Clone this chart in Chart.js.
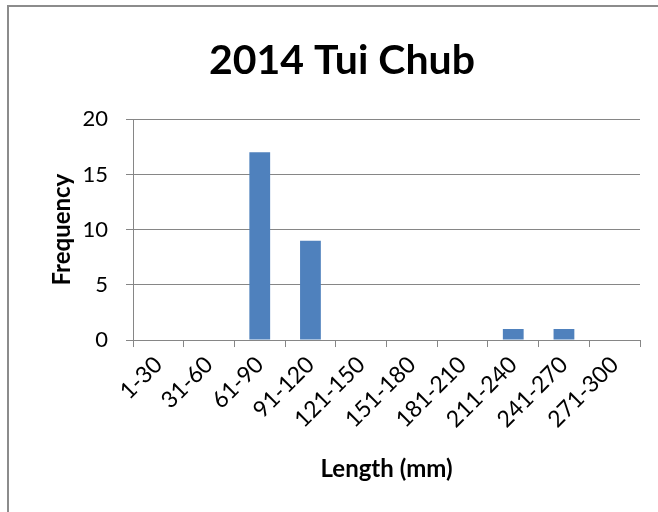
<!DOCTYPE html>
<html>
<head>
<meta charset="utf-8">
<script src="https://cdn.jsdelivr.net/npm/chart.js@4"></script>
<style>
  html, body { margin: 0; padding: 0; background: #fff; }
  #frame { position: absolute; left: 7px; top: 5px; width: 700px; height: 600px; border: 2px solid #8c8c8c; box-sizing: border-box; }
  #wrap { position: absolute; left: 0; top: 0; width: 658px; height: 512px; }
</style>
</head>
<body>
<div id="frame"></div>
<div id="wrap"><canvas id="fishChart" width="658" height="512"></canvas></div>
<script>
var lengthBins = ['1-30', '31-60', '61-90', '91-120', '121-150', '151-180', '181-210', '211-240', '241-270', '271-300'];
var frequencies = [0, 0, 17, 9, 0, 0, 0, 1, 1, 0];
var yTicks = [0, 5, 10, 15, 20];

var fontFamily = 'Lato, "Open Sans", sans-serif';

function renderChart() {
  var ctx = document.getElementById('fishChart').getContext('2d');
  new Chart(ctx, {
    type: 'bar',
    data: {
      labels: lengthBins,
      datasets: [
        {
          label: 'Frequency',
          data: frequencies,
          backgroundColor: '#4f81bd',
          borderWidth: 0,
          barPercentage: 0.41,
          categoryPercentage: 1,
        },
      ],
    },
    options: {
      responsive: false,
      animation: false,
      layout: { padding: { left: 44, right: 18, top: 26, bottom: 24 } },
      plugins: {
        legend: { display: false },
        tooltip: { enabled: false },
        title: {
          display: true,
          text: '2014 Tui Chub',
          color: '#000',
          font: { family: fontFamily, size: 41, weight: 'bold' },
          padding: { top: 10, bottom: 34 },
        },
      },
      scales: {
        x: {
          grid: { display: true, drawOnChartArea: false, color: '#868686', tickLength: 7, offset: true },
          border: { color: '#868686', width: 1 },
          ticks: {
            color: '#000',
            font: { family: fontFamily, size: 23 },
            maxRotation: 45,
            minRotation: 45,
            padding: 4,
          },
          title: {
            display: true,
            text: 'Length (mm)',
            color: '#000',
            font: { family: fontFamily, size: 24, weight: 'bold' },
            padding: { top: 18 },
          },
        },
        y: {
          min: 0,
          max: 20,
          afterBuildTicks: function (axis) {
            axis.ticks = yTicks.map(function (v) { return { value: v }; });
          },
          afterFit: function (axis) {
            axis.width = 89;
          },
          grid: { color: '#868686', tickLength: 7 },
          border: { color: '#868686', width: 1 },
          ticks: {
            color: '#000',
            font: { family: fontFamily, size: 22 },
            padding: 18,
          },
          title: {
            display: true,
            text: 'Frequency',
            color: '#000',
            font: { family: fontFamily, size: 24, weight: 'bold' },
            padding: { bottom: 8 },
          },
        },
      },
    },
  });
}

renderChart();
</script>
</body>
</html>
